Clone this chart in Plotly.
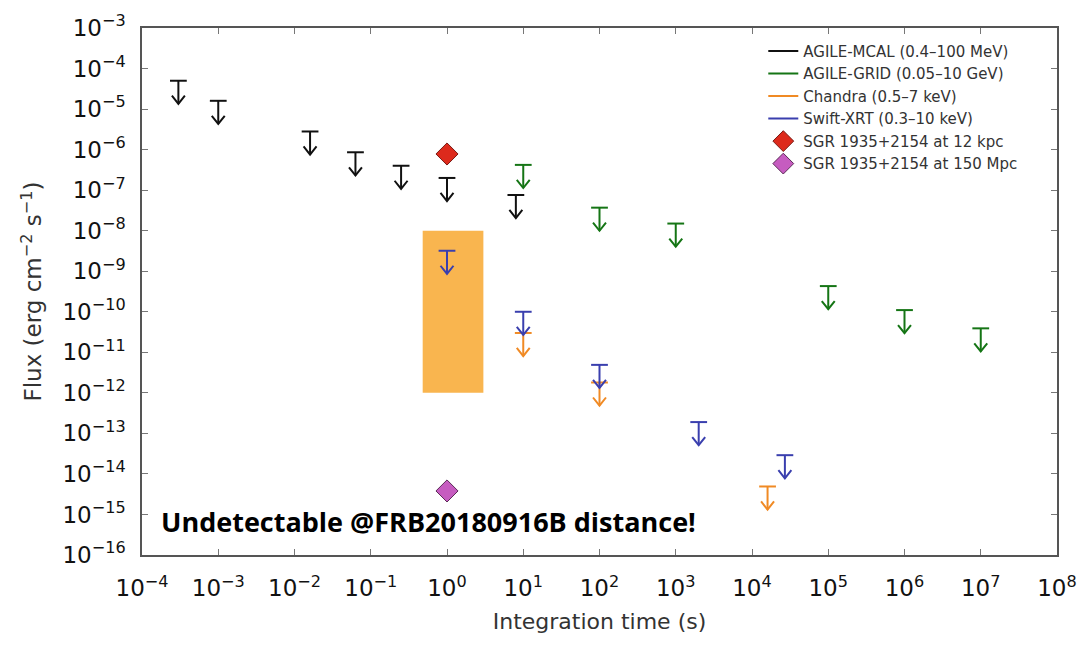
import numpy as np
import plotly.graph_objects as go

# ---------------- data ----------------
mcal_t = [3e-4, 1e-3, 1.6e-2, 6.3e-2, 0.25, 1.0, 8.0]
mcal_f = [5e-5, 1.6e-5, 2.8e-6, 8.6e-7, 4.0e-7, 2.0e-7, 7.6e-8]

grid_t = [10, 100, 1e3, 1e5, 1e6, 1e7]
grid_f = [4.2e-7, 3.7e-8, 1.5e-8, 4.3e-10, 1.1e-10, 3.9e-11]

chandra_t = [10, 100, 1.6e4]
chandra_f = [3.0e-11, 1.8e-12, 4.9e-15]

xrt_t = [1.0, 10, 100, 2e3, 2.7e4]
xrt_f = [3.2e-9, 1.0e-10, 4.9e-12, 1.9e-13, 2.9e-14]

sgr12_t, sgr12_f = [1.0], [7.8e-7]
sgr150_t, sgr150_f = [1.0], [3.8e-15]

box_t = [0.48, 3.0]
box_f = [1e-12, 1e-8]

x_tickvals = [10.0 ** k for k in range(-4, 9)]
x_ticktext = ["10<sup>%s</sup>" % (str(k).replace("-", "−")) for k in range(-4, 9)]
y_tickvals = [10.0 ** k for k in range(-16, -2)]
y_ticktext = ["10<sup>%s</sup>" % (str(k).replace("-", "−")) for k in range(-16, -2)]

series = [
    ("AGILE-MCAL (0.4–100 MeV)", mcal_t, mcal_f, "#111111"),
    ("AGILE-GRID (0.05–10 GeV)", grid_t, grid_f, "#157515"),
    ("Chandra (0.5–7 keV)", chandra_t, chandra_f, "#f08a24"),
    ("Swift-XRT (0.3–10 keV)", xrt_t, xrt_f, "#3a3fae"),
]

# upper-limit glyph geometry (in decades)
CAP_HALF = 0.11
ARROW_LEN = 0.57
HEAD_DX = 0.085
HEAD_DY = 0.2


def upper_limit_path(t, f):
    xs, ys = [], []
    for ti, fi in zip(t, f):
        lt, lf = np.log10(ti), np.log10(fi)
        tip = lf - ARROW_LEN
        pts = [(lt - CAP_HALF, lf), (lt + CAP_HALF, lf), (None, None),
               (lt, lf), (lt, tip), (None, None),
               (lt - HEAD_DX, tip + HEAD_DY), (lt, tip), (lt + HEAD_DX, tip + HEAD_DY),
               (None, None)]
        for px, py in pts:
            xs.append(None if px is None else 10 ** px)
            ys.append(None if py is None else 10 ** py)
    return xs, ys


fig = go.Figure()

fig.add_shape(type="rect", xref="x", yref="y",
              x0=box_t[0], x1=box_t[1], y0=box_f[0], y1=box_f[1],
              fillcolor="#f9b54f", line=dict(width=0), layer="below")

for name, t, f, c in series:
    xs, ys = upper_limit_path(t, f)
    fig.add_trace(go.Scatter(x=xs, y=ys, mode="lines", name=name,
                             line=dict(color=c, width=2), connectgaps=False))

fig.add_trace(go.Scatter(x=sgr12_t, y=sgr12_f, mode="markers",
                         name="SGR 1935+2154 at 12 kpc",
                         marker=dict(symbol="diamond", size=17, color="#dd2a1c",
                                     line=dict(width=1, color="#7a1a14"))))
fig.add_trace(go.Scatter(x=sgr150_t, y=sgr150_f, mode="markers",
                         name="SGR 1935+2154 at 150 Mpc",
                         marker=dict(symbol="diamond", size=17, color="#c65cc0",
                                     line=dict(width=1, color="#5c2a58"))))

fig.add_annotation(xref="paper", yref="paper", x=0.019, y=0.063,
                   xanchor="left", yanchor="middle", showarrow=False,
                   text="<b>Undetectable @FRB20180916B distance!</b>",
                   font=dict(family="Open Sans, sans-serif", size=27,
                             color="black"))

FONT = "DejaVu Sans, Liberation Sans, Arial"
axis_common = dict(type="log", showgrid=False, zeroline=False, automargin=False,
                   showline=True, linecolor="#555555", linewidth=1.5,
                   mirror="ticks", ticks="inside", ticklen=6, tickwidth=1,
                   tickcolor="#777777",
                   tickfont=dict(family=FONT, size=23, color="#111111"))

fig.update_xaxes(**axis_common, range=[-4, 8],
                 tickvals=x_tickvals, ticktext=x_ticktext, ticklabelstandoff=12,
                 minor=dict(ticks="inside", ticklen=3, tickcolor="#999999",
                            showgrid=False),
                 title=dict(text="Integration time (s)", standoff=13,
                            font=dict(family=FONT, size=22, color="#333333")))
fig.update_yaxes(**axis_common, range=[-16, -3],
                 tickvals=y_tickvals, ticktext=y_ticktext, ticklabelstandoff=10,
                 title=dict(text="Flux (erg cm<sup>−2</sup> s<sup>−1</sup>)",
                            standoff=14,
                            font=dict(family=FONT, size=23, color="#333333")))

# the page body adds an 8px offset; margins compensate so the plot box
# lands at x 142-1057, y 28-555 in the window
fig.update_layout(
    width=1089, height=650,
    margin=dict(l=134, r=40, t=20, b=103),
    plot_bgcolor="white", paper_bgcolor="white",
    legend=dict(x=0.679, y=0.987, xanchor="left", yanchor="top",
                bgcolor="rgba(0,0,0,0)", borderwidth=0, tracegroupgap=0,
                font=dict(family=FONT, size=15, color="#333333")),
)

fig.write_html("out.html")
